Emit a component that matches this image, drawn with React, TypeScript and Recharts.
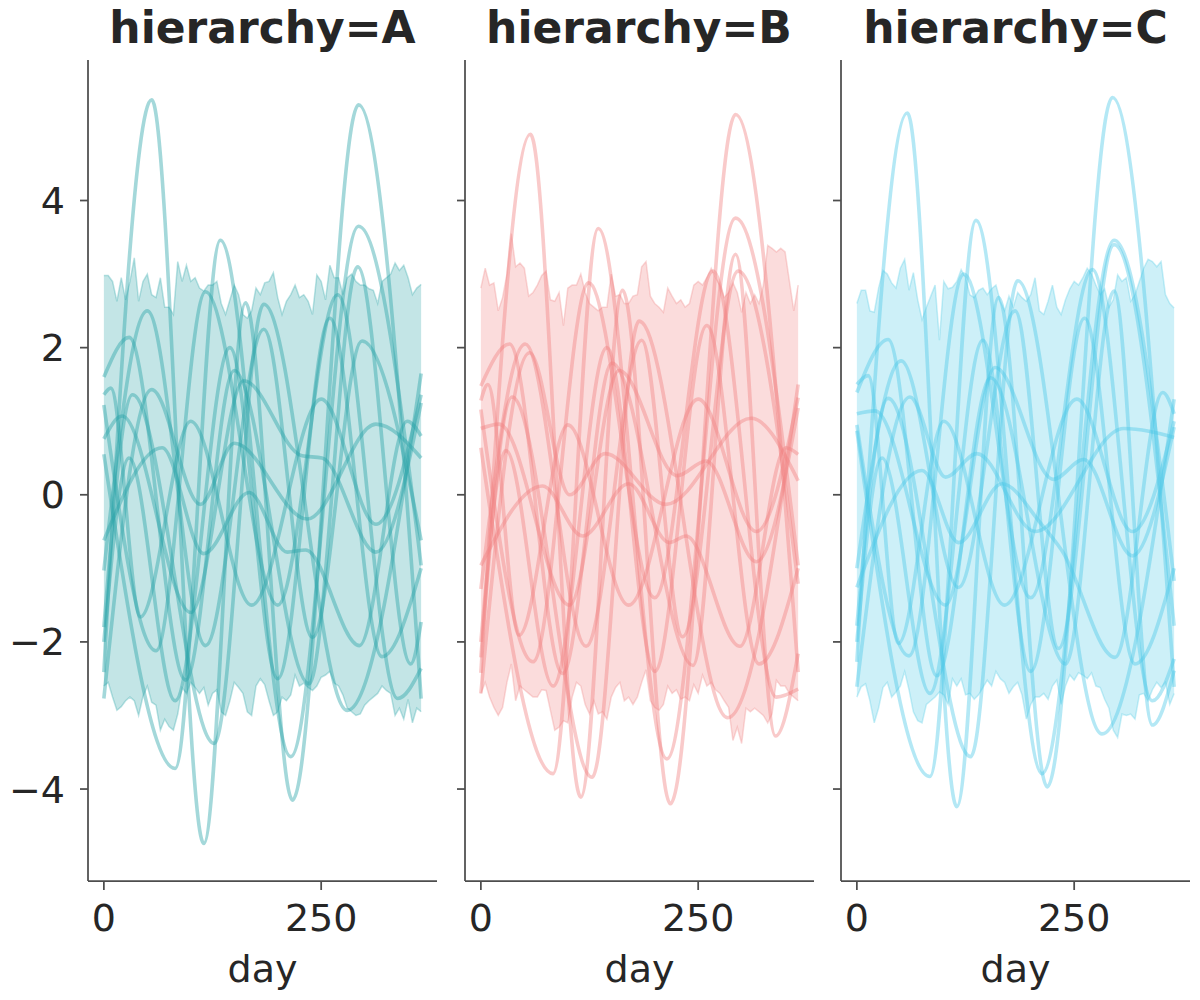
import React from 'react';
import { ComposedChart, Area, Line, XAxis, YAxis } from 'recharts';

type Pt = [number, number];

// band sampled every 5 days
const BAND_DAYS = Array.from({ length: 74 }, (_, i) => i * 5);

const A_HI = [
  2.98, 2.98, 2.9, 2.63, 2.95, 2.65, 2.9, 3.22, 2.63, 2.9,
  3.0, 2.72, 2.68, 2.95, 2.55, 2.55, 2.45, 3.17, 2.9, 3.12,
  2.9, 2.95, 2.81, 2.77, 2.85, 2.85, 2.9, 2.6, 2.45, 2.65,
  2.85, 2.72, 2.45, 2.4, 2.5, 2.81, 2.72, 2.88, 2.9, 3.02,
  2.68, 2.45, 2.63, 2.72, 2.85, 2.68, 2.72, 2.63, 2.45, 2.99,
  2.9, 2.65, 3.12, 2.95, 2.95, 2.72, 2.95, 3.0, 2.9, 2.85,
  2.85, 2.8, 2.78, 2.6, 2.9, 2.95, 3.0, 3.15, 3.05, 3.12,
  2.95, 2.72, 2.81, 2.86,
];
const A_LO = [
  -2.6, -2.55, -2.75, -2.93, -2.88, -2.8, -2.75, -2.8, -3.0, -2.74,
  -2.6, -2.82, -2.86, -3.2, -3.05, -3.15, -3.2, -2.98, -2.62, -2.7,
  -2.55, -2.62, -2.7, -2.62, -2.86, -2.7, -2.65, -2.95, -3.0, -2.8,
  -2.55, -2.62, -2.7, -2.95, -3.0, -2.6, -2.5, -2.58, -2.8, -3.0,
  -2.95, -2.75, -2.8, -2.72, -2.45, -2.6, -2.56, -2.62, -2.66, -2.6,
  -2.48, -2.45, -2.4, -2.56, -2.6, -2.72, -2.9, -2.95, -3.0, -2.98,
  -2.86, -2.8, -2.75, -2.7, -2.6, -2.66, -2.7, -3.0, -2.9, -3.05,
  -2.78, -3.1, -2.9, -2.95,
];
const B_HI = [
  2.81, 3.08, 2.85, 2.88, 2.5, 2.68, 3.0, 3.55, 3.1, 3.15,
  3.08, 2.7, 2.75, 2.85, 2.98, 3.04, 2.65, 2.63, 2.75, 2.3,
  2.81, 2.85, 2.85, 3.0, 2.75, 2.6, 2.55, 2.5, 2.55, 2.55,
  3.0, 2.7, 2.72, 2.6, 2.6, 2.7, 2.72, 3.1, 3.17, 2.7,
  2.6, 2.55, 2.48, 2.81, 2.7, 2.6, 2.65, 2.55, 2.6, 2.85,
  2.9, 2.85, 2.95, 3.08, 2.95, 2.85, 2.68, 2.75, 2.88, 2.75,
  2.48, 2.75, 2.6, 2.72, 2.6, 2.85, 3.39, 3.35, 3.3, 3.35,
  3.3, 2.9, 2.5, 2.85,
];
const B_LO = [
  -2.7, -2.55, -2.75, -2.89, -3.0, -2.89, -2.55, -2.3, -2.8, -2.6,
  -2.65, -2.7, -2.75, -2.75, -2.65, -2.66, -2.93, -3.2, -3.16, -3.07,
  -3.1, -2.75, -2.55, -2.6, -2.85, -2.98, -2.8, -2.98, -2.95, -3.05,
  -2.75, -2.62, -2.55, -2.8, -2.75, -2.85, -2.75, -2.55, -2.38, -2.8,
  -2.89, -2.93, -2.85, -2.6, -2.7, -2.65, -2.78, -2.75, -2.8, -2.58,
  -2.7, -2.45, -2.6, -2.55, -2.65, -2.7, -2.8, -2.89, -3.34, -3.16,
  -3.38, -2.9, -2.95, -2.9, -2.95, -3.0, -3.1, -2.98, -2.52, -2.6,
  -2.6, -2.7, -2.75, -2.8,
];
const C_HI = [
  2.6, 2.78, 2.78, 2.5, 2.48, 2.81, 3.05, 3.0, 2.88, 2.81,
  3.08, 3.2, 2.78, 3.02, 2.65, 2.38, 2.55, 2.7, 2.85, 2.1,
  2.9, 2.8, 2.82, 2.9, 3.06, 2.95, 2.72, 2.68, 2.78, 2.81,
  2.72, 2.8, 2.85, 2.63, 2.5, 2.7, 2.55, 2.75, 2.68, 2.63,
  2.72, 2.95, 2.5, 2.45, 2.63, 2.85, 2.55, 2.45, 2.65, 2.8,
  2.9, 2.85, 2.95, 3.08, 3.0, 2.85, 2.72, 2.8, 2.55, 2.65,
  2.99, 2.9, 2.95, 2.63, 2.72, 2.9, 3.08, 3.2, 3.17, 3.1,
  3.17, 2.72, 2.6, 2.54,
];
const C_LO = [
  -2.75, -2.61, -2.57, -2.8, -3.1, -2.9, -2.62, -2.55, -2.75, -2.68,
  -2.6, -2.4, -2.65, -2.95, -3.07, -3.1, -2.85, -2.8, -2.75, -2.68,
  -2.72, -2.85, -2.5, -2.6, -2.5, -2.72, -2.7, -2.78, -2.72, -2.62,
  -2.52, -2.6, -2.4, -2.5, -2.55, -2.7, -2.61, -2.55, -2.72, -3.05,
  -2.85, -2.75, -2.75, -2.7, -2.78, -2.6, -2.52, -2.85, -2.6, -2.45,
  -2.52, -2.42, -2.45, -2.5, -2.42, -2.6, -2.62, -2.78, -2.9, -3.2,
  -3.3, -2.98, -3.0, -2.98, -3.05, -2.72, -2.7, -2.8, -2.65, -2.55,
  -2.62, -2.55, -2.85, -2.7,
];

// smooth series: [day, value] at the turning points
const A_LINES: Pt[][] = [
  [[0, -2.41], [55, 5.37], [115, -4.74], [163, 2.61], [217, -4.15], [293, 5.3], [365, -2.77]],
  [[0, 0.55], [82, -3.72], [134, 3.46], [215, -3.56], [293, 3.65], [365, -0.96]],
  [[0, 1.6], [29, 2.14], [94, -2.52], [150, 1.69], [236, -2.57], [292, 3.1], [353, -2.3], [365, -1.73]],
  [[0, 1.22], [60, -2.12], [117, 2.76], [200, -1.5], [269, 2.72], [338, -2.77], [365, -2.36]],
  [[0, -1.8], [33, 1.36], [127, -3.38], [184, 2.59], [280, -2.93], [365, 1.65]],
  [[0, -1.03], [50, 2.5], [117, -2.05], [184, 2.25], [240, -1.94], [297, 2.09], [365, -0.62]],
  [[0, 0.76], [21, 1.07], [100, -1.6], [161, 1.55], [228, 0.53], [251, 0.5], [313, -0.78], [365, 1.25]],
  [[0, -0.62], [67, 0.64], [115, -0.8], [167, 0.03], [211, -0.78], [232, -0.75], [294, -2.05], [349, 1.0], [365, 0.8]],
  [[0, 1.36], [8, 1.45], [42, -1.66], [100, 1.0], [170, -1.5], [250, 1.3], [313, -0.4], [365, 1.36]],
  [[0, -2.77], [55, 1.43], [111, -0.13], [150, 0.7], [234, -0.33], [313, 0.96], [365, 0.5]],
  [[0, -2.0], [29, 0.5], [82, -2.8], [145, 2.0], [200, -2.5], [260, 2.4], [320, -2.2], [365, -1.0]],
];
const B_LINES: Pt[][] = [
  [[0, -2.42], [57, 4.9], [115, -4.11], [163, 2.78], [218, -4.2], [293, 5.17], [365, -2.41]],
  [[0, 0.64], [83, -3.79], [135, 3.62], [214, -3.59], [293, 3.76], [365, -0.96]],
  [[0, 1.48], [33, 2.05], [94, -2.43], [151, 1.79], [244, -2.32], [293, 3.27], [339, -3.28], [365, -2.16]],
  [[0, 1.16], [60, -2.27], [124, 2.88], [200, -1.4], [267, 3.04], [340, -2.75], [365, -2.64]],
  [[0, -2.21], [36, 1.33], [128, -3.84], [182, 2.36], [284, -3.03], [365, 1.5]],
  [[0, -1.28], [51, 2.05], [121, -2.06], [185, 2.1], [232, -1.93], [296, 3.04], [365, -1.21]],
  [[0, 0.9], [21, 0.96], [102, -1.5], [159, 1.69], [226, 0.26], [259, 0.46], [317, -0.91], [365, 1.18]],
  [[0, -0.96], [71, 0.12], [117, -0.56], [170, 0.15], [217, -0.65], [236, -0.56], [298, -2.06], [351, 0.64], [365, 0.55]],
  [[0, 1.28], [8, 1.5], [44, -1.91], [100, 0.95], [170, -1.5], [250, 1.3], [317, -0.5], [365, 1.32]],
  [[0, -2.7], [56, 1.93], [102, 0.0], [143, 0.56], [213, -0.13], [311, 1.04], [365, 0.19]],
  [[0, -2.0], [29, 0.6], [83, -2.6], [145, 2.0], [200, -2.4], [260, 2.3], [320, -2.3], [365, -1.0]],
];
const C_LINES: Pt[][] = [
  [[0, -2.27], [58, 5.19], [115, -4.24], [163, 2.68], [219, -3.97], [294, 5.4], [365, -2.61]],
  [[0, 0.87], [84, -3.83], [137, 3.73], [213, -3.79], [296, 3.46], [365, -1.17]],
  [[0, 1.39], [36, 2.11], [92, -2.46], [154, 1.59], [240, -2.3], [296, 2.77], [340, -3.13], [365, -2.39]],
  [[0, 0.95], [60, -2.19], [123, 3.0], [200, -1.4], [271, 3.06], [340, -2.8], [365, -2.23]],
  [[0, -1.78], [36, 1.31], [131, -3.56], [185, 2.91], [282, -3.25], [365, 1.3]],
  [[0, -1.0], [51, 1.82], [117, -1.26], [182, 2.5], [232, -2.09], [296, 3.4], [365, -1.78]],
  [[0, 1.1], [21, 1.14], [102, -1.5], [159, 1.73], [226, 0.21], [261, 0.48], [317, -0.83], [365, 0.92]],
  [[0, -1.26], [75, 0.33], [117, -0.65], [167, 0.15], [211, -0.38], [236, -0.76], [297, -2.21], [352, 1.39], [365, 1.1]],
  [[0, 1.5], [13, 1.62], [48, -2.02], [100, 1.0], [170, -1.5], [253, 1.3], [317, -0.5], [365, 1.0]],
  [[0, -2.61], [61, 1.33], [102, 0.24], [138, 0.56], [205, -0.5], [307, 0.9], [365, 0.78]],
  [[0, -2.0], [29, 0.5], [84, -2.7], [145, 2.1], [200, -2.4], [262, 2.4], [320, -2.3], [365, -1.0]],
];

const X_TICKS = [0, 250];
const Y_TICKS = [-4, -2, 0, 2, 4];

const PANELS = [
  { name: 'A', color: '#26a2a7', hi: A_HI, lo: A_LO, lines: A_LINES, left: 88 },
  { name: 'B', color: '#f08080', hi: B_HI, lo: B_LO, lines: B_LINES, left: 464.5 },
  { name: 'C', color: '#4cc9e6', hi: C_HI, lo: C_LO, lines: C_LINES, left: 841 },
];

const X_DOMAIN: [number, number] = [-18.25, 383.25];
const Y_DOMAIN: [number, number] = [-5.25, 5.91];
const PLOT_W = 349;
const AXIS = '#4d4d4d';
const INK = '#262626';
const FONT = "'DejaVu Sans', sans-serif";

const fmt = (v: number) => (v < 0 ? '\u2212' + Math.abs(v) : String(v));

function Panel({ p, first }: { p: (typeof PANELS)[number]; first: boolean }) {
  const yW = first ? 88 : 24;
  const band = BAND_DAYS.map((d, i) => ({ day: d, range: [p.lo[i], p.hi[i]] }));
  const axisStyle = { stroke: AXIS, strokeWidth: 1.75 };
  return (
    <div style={{ position: 'absolute', left: p.left - yW, top: 0 }}>
      <ComposedChart
        width={yW + PLOT_W + 8}
        height={1000}
        data={band}
        margin={{ top: 60, right: 8, bottom: 0, left: 0 }}
      >
        <XAxis
          dataKey="day"
          type="number"
          domain={X_DOMAIN}
          ticks={X_TICKS}
          allowDataOverflow
          height={119}
          tickSize={9}
          tickMargin={14}
          axisLine={axisStyle}
          tickLine={axisStyle}
          tick={{ fill: INK, fontSize: 38, fontFamily: FONT }}
          label={{ value: 'day', position: 'insideBottom', offset: 18, fill: INK, fontSize: 38, fontFamily: FONT }}
        />
        <YAxis
          type="number"
          domain={Y_DOMAIN}
          ticks={Y_TICKS}
          allowDataOverflow
          width={yW}
          tickSize={8}
          tickMargin={15}
          axisLine={axisStyle}
          tickLine={axisStyle}
          tickFormatter={first ? fmt : () => ''}
          tick={{ fill: INK, fontSize: 38, fontFamily: FONT }}
        />
        <Area
          dataKey="range"
          type="linear"
          fill={p.color}
          fillOpacity={0.28}
          stroke={p.color}
          strokeOpacity={0.3}
          strokeWidth={1.5}
          isAnimationActive={false}
        />
        {p.lines.map((ln, k) => (
          <Line
            key={k}
            data={ln.map(([d, v]) => ({ day: d, v }))}
            dataKey="v"
            type="monotone"
            stroke={p.color}
            strokeOpacity={0.42}
            strokeWidth={3.6}
            dot={false}
            activeDot={false}
            isAnimationActive={false}
          />
        ))}
      </ComposedChart>
    </div>
  );
}

export default function App() {
  return (
    <div style={{ position: 'absolute', left: 0, top: 0, width: 1200, height: 1000, background: '#fff' }}>
      <svg width={1200} height={60} style={{ position: 'absolute', left: 0, top: 0 }}>
        {PANELS.map((p) => (
          <text
            key={p.name}
            x={p.left + PLOT_W / 2}
            y={43}
            textAnchor="middle"
            fontFamily={FONT}
            fontWeight="bold"
            fontSize={44}
            fill={INK}
          >
            {`hierarchy=${p.name}`}
          </text>
        ))}
      </svg>
      {PANELS.map((p, i) => (
        <Panel key={p.name} p={p} first={i === 0} />
      ))}
    </div>
  );
}
